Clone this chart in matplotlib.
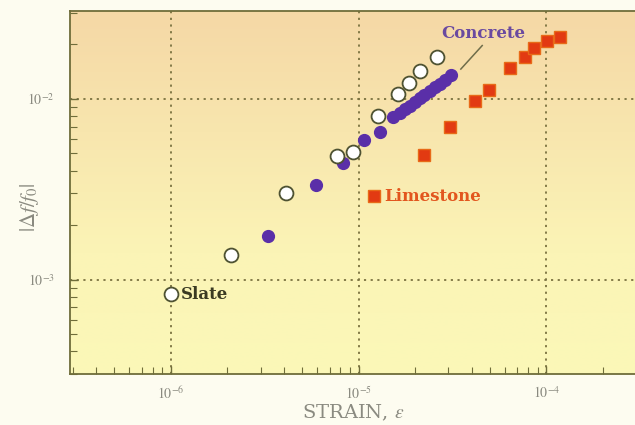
import numpy as np
import matplotlib
matplotlib.use("Agg")
import matplotlib.pyplot as plt
from matplotlib.colors import LinearSegmentedColormap
from matplotlib.ticker import LogLocator, FixedLocator, NullFormatter

# ---- data ----
slate_x = [1.0e-6, 2.1e-6, 4.1e-6, 7.7e-6, 9.3e-6, 1.26e-5, 1.61e-5, 1.85e-5, 2.11e-5, 2.60e-5]
slate_y = [8.3e-4, 1.37e-3, 3.0e-3, 4.8e-3, 5.05e-3, 8.05e-3, 1.06e-2, 1.22e-2, 1.43e-2, 1.71e-2]

concrete_x = [3.27e-6, 5.9e-6, 8.3e-6, 1.07e-5, 1.30e-5, 1.53e-5, 1.65e-5, 1.76e-5, 1.87e-5,
              1.99e-5, 2.11e-5, 2.24e-5, 2.39e-5, 2.54e-5, 2.70e-5, 2.87e-5, 3.09e-5]
concrete_y = [1.73e-3, 3.33e-3, 4.41e-3, 5.93e-3, 6.52e-3, 7.91e-3, 8.37e-3, 8.75e-3, 9.15e-3,
              9.63e-3, 1.01e-2, 1.05e-2, 1.11e-2, 1.16e-2, 1.21e-2, 1.27e-2, 1.35e-2]

limestone_x = [1.20e-5, 2.22e-5, 3.06e-5, 4.19e-5, 4.93e-5, 6.38e-5, 7.73e-5, 8.63e-5, 1.01e-4, 1.18e-4]
limestone_y = [2.88e-3, 4.91e-3, 6.98e-3, 9.66e-3, 1.12e-2, 1.48e-2, 1.70e-2, 1.91e-2, 2.10e-2, 2.21e-2]

x_ticks = [1e-6, 1e-5, 1e-4]
x_ticklabels = [r"$10^{-6}$", r"$10^{-5}$", r"$10^{-4}$"]
y_ticks = [1e-3, 1e-2]
y_ticklabels = [r"$10^{-3}$", r"$10^{-2}$"]

plt.rcParams["font.family"] = ["DejaVu Serif"]
plt.rcParams["mathtext.fontset"] = "stix"

fig = plt.figure(figsize=(6.35, 4.25), dpi=100, facecolor="#fdfcf0")
ax = fig.add_axes([70/635, 51/425, (636-70)/635, (374-11)/425])

# gradient background (peach at top, pale yellow at bottom)
cmap = LinearSegmentedColormap.from_list("bg", ["#f5d8a6", "#f8e6ae", "#fbf4b6", "#fbf8b8"])
grad = np.linspace(0, 1, 256).reshape(-1, 1)
ax.imshow(grad, cmap=cmap, aspect="auto", extent=[0, 1, 0, 1], transform=ax.transAxes, zorder=0)

ax.set_xscale("log")
ax.set_yscale("log")
ax.set_xlim(2.9e-7, 3.0e-4)
ax.set_ylim(3.0e-4, 3.06e-2)

spine_c = "#6f6d3a"
for s in ["left", "bottom", "top"]:
    ax.spines[s].set_color(spine_c)
    ax.spines[s].set_linewidth(1.3)
ax.spines["right"].set_visible(False)

ax.xaxis.set_major_locator(FixedLocator(x_ticks))
ax.set_xticklabels(x_ticklabels)
ax.yaxis.set_major_locator(FixedLocator(y_ticks))
ax.set_yticklabels(y_ticklabels)
ax.xaxis.set_minor_locator(LogLocator(base=10, subs=np.arange(2, 10)))
ax.yaxis.set_minor_locator(LogLocator(base=10, subs=np.arange(2, 10)))
ax.xaxis.set_minor_formatter(NullFormatter())
ax.yaxis.set_minor_formatter(NullFormatter())
ax.tick_params(which="both", direction="in", color=spine_c, labelcolor="#8a8a80", labelsize=10)
ax.tick_params(which="major", length=6, width=1)
ax.tick_params(which="minor", length=5, width=0.8)
ax.tick_params(axis="x", pad=8)
ax.tick_params(axis="y", pad=11)

ax.grid(True, which="major", linestyle=(0, (1.2, 2.5)), color="#7a7240", linewidth=1.3, zorder=1)

ax.plot(slate_x, slate_y, "o", ms=10, mfc="white", mec="#4e5232", mew=1.3, zorder=4)
ax.plot(concrete_x, concrete_y, "o", ms=8.5, mfc="#5a2fa8", mec="#5a2fa8", zorder=3)
ax.plot(limestone_x, limestone_y, "s", ms=9, mfc="#e23a12", mec="#e86a18", mew=1, zorder=3)

ax.text(1.13e-6, 8.3e-4, "Slate", fontsize=12, fontweight="bold", color="#3a3a22",
        va="center", ha="left", zorder=5)
ax.text(1.37e-5, 2.88e-3, "Limestone", fontsize=12, fontweight="bold", color="#e2561e",
        va="center", ha="left", zorder=5)
ax.text(4.6e-5, 2.3e-2, "Concrete", fontsize=12, fontweight="bold", color="#6a4aa0",
        va="center", ha="center", zorder=5)
ax.plot([3.5e-5, 4.55e-5], [1.46e-2, 1.97e-2], color="#6f6d4a", lw=1.1, zorder=5)

ax.set_xlabel(r"STRAIN, $\varepsilon$", fontsize=14, color="#8a8a80", labelpad=1)
ax.set_ylabel(r"$|\Delta f/f_0|$", fontsize=15, color="#8a8a80")
ax.yaxis.set_label_coords(-0.052, 0.46)

fig.savefig("out.png", dpi=100, facecolor=fig.get_facecolor())
